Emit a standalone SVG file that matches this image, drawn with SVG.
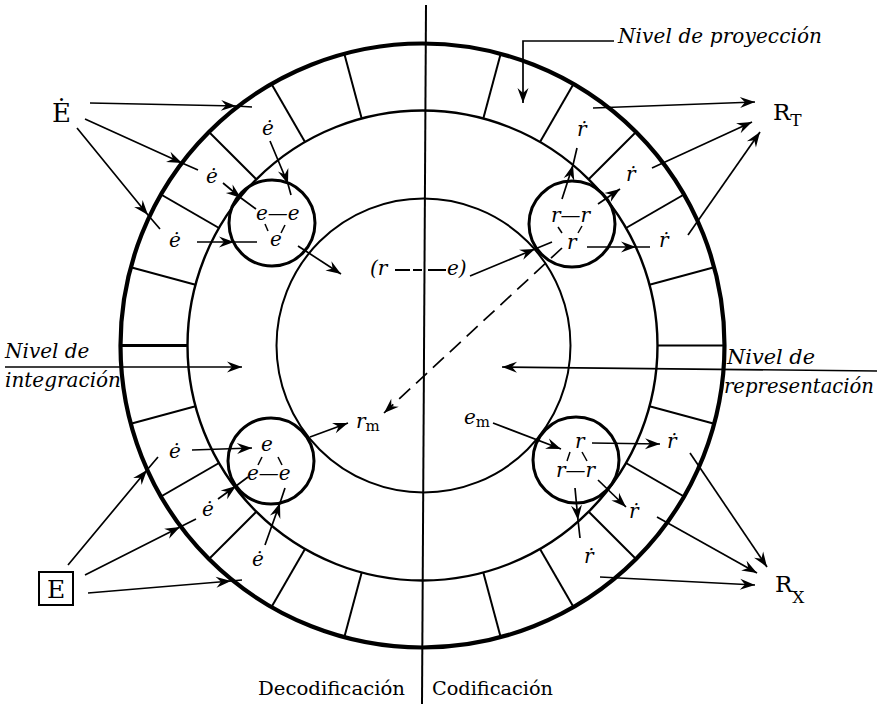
<svg xmlns="http://www.w3.org/2000/svg" width="879" height="706" viewBox="0 0 879 706">
<defs>
<marker id="ah" viewBox="-16 -7 17 14" refX="0" refY="0" markerWidth="17" markerHeight="14" markerUnits="userSpaceOnUse" orient="auto"><path d="M0,0 L-15,-5.5 L-10,0 L-15,5.5 Z" fill="#000"/></marker>
<style>
.ln{stroke:#000;fill:none}
.outer{stroke-width:4.2}
.mid{stroke-width:2.4}
.inn{stroke-width:2}
.sm{stroke-width:3}
.rad{stroke-width:2}
.a{stroke:#000;stroke-width:1.7;fill:none}
.am{marker-mid:url(#ah)}
.ae{marker-end:url(#ah)}
.dash{stroke-dasharray:15 8}
.tri{stroke:#000;stroke-width:1.5}
.it{font-family:"DejaVu Serif","Liberation Serif",serif;font-style:italic;font-size:20px;fill:#000}
.lab{font-family:"DejaVu Serif","Liberation Serif",serif;font-style:italic;font-size:20px;fill:#000}
.rm{font-family:"DejaVu Serif","Liberation Serif",serif;fill:#000}
</style>
</defs>
<rect width="879" height="706" fill="#fff"/>

<g id="circles">
<line class="ln" x1="426" y1="5" x2="422" y2="704" stroke-width="2"/>
<circle class="ln outer" cx="422.5" cy="345.5" r="302"/>
<circle class="ln mid" cx="422.5" cy="345.5" r="235"/>
<circle class="ln inn" cx="423.5" cy="345.5" r="147"/>
</g>

<g id="ring-divisions" class="ln rad">
<line x1="483.3" y1="118.5" x2="500.7" y2="53.8"/>
<line x1="540" y1="142" x2="573.5" y2="84"/>
<line x1="588.7" y1="179.3" x2="636" y2="132"/>
<line x1="626" y1="228" x2="684" y2="194.5"/>
<line x1="649.5" y1="284.7" x2="714.2" y2="267.3"/>
<line x1="657.5" y1="345.5" x2="724.5" y2="345.5"/>
<line x1="649.5" y1="406.3" x2="714.2" y2="423.7"/>
<line x1="626" y1="463" x2="684" y2="496.5"/>
<line x1="588.7" y1="511.7" x2="636" y2="559"/>
<line x1="540" y1="549" x2="573.5" y2="607"/>
<line x1="483.3" y1="572.5" x2="500.7" y2="637.2"/>
<line x1="361.7" y1="572.5" x2="344.3" y2="637.2"/>
<line x1="305" y1="549" x2="271.5" y2="607"/>
<line x1="256.3" y1="511.7" x2="209" y2="559"/>
<line x1="219" y1="463" x2="161" y2="496.5"/>
<line x1="195.5" y1="406.3" x2="130.8" y2="423.7"/>
<line x1="187.5" y1="345.5" x2="120.5" y2="345.5" stroke-width="3"/>
<line x1="195.5" y1="284.7" x2="130.8" y2="267.3"/>
<line x1="219" y1="228" x2="161" y2="194.5"/>
<line x1="256.3" y1="179.3" x2="209" y2="132"/>
<line x1="305" y1="142" x2="271.5" y2="84"/>
<line x1="361.7" y1="118.5" x2="344.3" y2="53.8"/>
</g>

<g id="circle-ul">
<circle class="ln sm" cx="272" cy="223" r="43" fill="none"/>
<text class="it" x="256" y="220">e—e</text>
<text class="it" x="270" y="246">e</text>
<line class="tri" x1="265" y1="224" x2="268" y2="231"/>
<line class="tri" x1="285" y1="225" x2="281" y2="233"/>
</g>
<g id="circle-ur">
<circle class="ln sm" cx="572" cy="224" r="43" fill="none"/>
<text class="it" x="551" y="222">r—r</text>
<text class="it" x="567" y="249">r</text>
<line class="tri" x1="558" y1="227" x2="562" y2="233"/>
<line class="tri" x1="582" y1="226" x2="578" y2="233"/>
</g>
<g id="circle-ll">
<circle class="ln sm" cx="271" cy="461" r="43" fill="none"/>
<text class="it" x="261" y="451">e</text>
<text class="it" x="247" y="480">e—e</text>
<line class="tri" x1="262" y1="457" x2="258" y2="465"/>
<line class="tri" x1="278" y1="457" x2="282" y2="465"/>
</g>
<g id="circle-lr">
<circle class="ln sm" cx="576" cy="460" r="43" fill="none"/>
<text class="it" x="575" y="448">r</text>
<text class="it" x="556" y="477">r—r</text>
<line class="tri" x1="570" y1="452" x2="567" y2="461"/>
<line class="tri" x1="582" y1="452" x2="587" y2="461"/>
</g>

<g id="E-dot"><text class="rm" x="52" y="122" font-size="26">Ė</text></g>
<g id="E-box"><rect x="39" y="572" width="34" height="33" fill="none" stroke="#000" stroke-width="2"/><text class="rm" x="56" y="598" font-size="25" text-anchor="middle">E</text></g>
<g id="RT"><text class="rm" x="773" y="120" font-size="23">R<tspan font-size="17" dy="6">T</tspan></text></g>
<g id="RX"><text class="rm" x="775" y="592" font-size="23">R<tspan font-size="17" dy="11">X</tspan></text></g>

<g id="e-dots">
<text class="it" x="262" y="135">ė</text>
<text class="it" x="206" y="183">ė</text>
<text class="it" x="169" y="247">ė</text>
<text class="it" x="169" y="458">ė</text>
<text class="it" x="202" y="516">ė</text>
<text class="it" x="252" y="566">ė</text>
</g>
<g id="r-dots">
<text class="it" x="577" y="136">ṙ</text>
<text class="it" x="626" y="181">ṙ</text>
<text class="it" x="659" y="247">ṙ</text>
<text class="it" x="667" y="448">ṙ</text>
<text class="it" x="629" y="518">ṙ</text>
<text class="it" x="584" y="563">ṙ</text>
</g>

<g id="re">
<text class="it" x="370" y="275">(r</text>
<line class="ln" x1="395" y1="270" x2="446" y2="270" stroke-width="1.8" stroke-dasharray="15 3 9 6 18"/>
<text class="it" x="447" y="275">e)</text>
</g>
<g id="rm"><text class="it" x="356" y="428">r<tspan class="rm" font-style="normal" font-size="15" dy="3">m</tspan></text></g>
<g id="em"><text class="it" x="464" y="424">e<tspan class="rm" font-style="normal" font-size="15" dy="3">m</tspan></text></g>

<g id="labels">
<text class="lab" x="618" y="43" textLength="204" lengthAdjust="spacing">Nivel de proyección</text>
<text class="lab" x="5" y="358">Nivel de</text>
<text class="lab" x="5" y="387">integración</text>
<text class="lab" x="727" y="364" textLength="88" lengthAdjust="spacingAndGlyphs">Nivel de</text>
<text class="lab" x="724" y="393" textLength="150" lengthAdjust="spacingAndGlyphs">representación</text>
<text class="rm" x="258" y="695" font-size="18" textLength="147" lengthAdjust="spacingAndGlyphs">Decodificación</text>
<text class="rm" x="432" y="695" font-size="18" textLength="121" lengthAdjust="spacingAndGlyphs">Codificación</text>
</g>

<g id="connectors">
<path class="a am" d="M90,103 L236,106 L252,107"/>
<path class="a am" d="M85,119 L182,163 L198,170"/>
<path class="a am" d="M77,128 L148,215 L160,229"/>
<path class="a am" d="M270,141 L288,184 L291,195"/>
<path class="a am" d="M223,183 L241,198 L256,209"/>
<path class="a am" d="M197,242 L234,242 L257,242"/>
<path class="a am" d="M68,565 L147,470 L158,457"/>
<path class="a am" d="M85,575 L180,527 L196,519"/>
<path class="a am" d="M88,593 L231,581 L242,580"/>
<path class="a am" d="M218,499 L236,486 L248,477"/>
<path class="a am" d="M265,545 L280,503 L285,488"/>
<path class="a am" d="M470,276 L535,249 L552,242"/>
<path class="a am" d="M562,199 L573,165 L577,148"/>
<path class="a ae" d="M598,204 L620,189"/>
<path class="a am" d="M587,247 L636,247 L650,247"/>
<path class="a am" d="M575,488 L578,520 L580,538"/>
<path class="a ae" d="M593,108 L755,102"/>
<path class="a ae" d="M652,168 L752,122"/>
<path class="a ae" d="M688,235 L760,132"/>
<path class="a ae" d="M592,443 L660,444"/>
<path class="a ae" d="M598,480 L626,507"/>
<path class="a ae" d="M690,453 L767,567"/>
<path class="a ae" d="M657,517 L757,573"/>
<path class="a ae" d="M600,577 L755,585"/>
<path class="a ae" d="M192,450 L252,448"/>
<path class="a ae" d="M298,246 L341,274"/>
<path class="a ae" d="M310,437 L348,423"/>
<path class="a ae" d="M493,423 L561,449"/>
<path class="a ae" d="M5,367 L242,367"/>
<path class="a ae" d="M877,371 L502,367"/>
<path class="a ae" d="M614,41 L523,41 L523,103"/>
<path class="a ae dash" d="M562,248 L384,413" stroke-width="2.2"/>
</g>
</svg>
